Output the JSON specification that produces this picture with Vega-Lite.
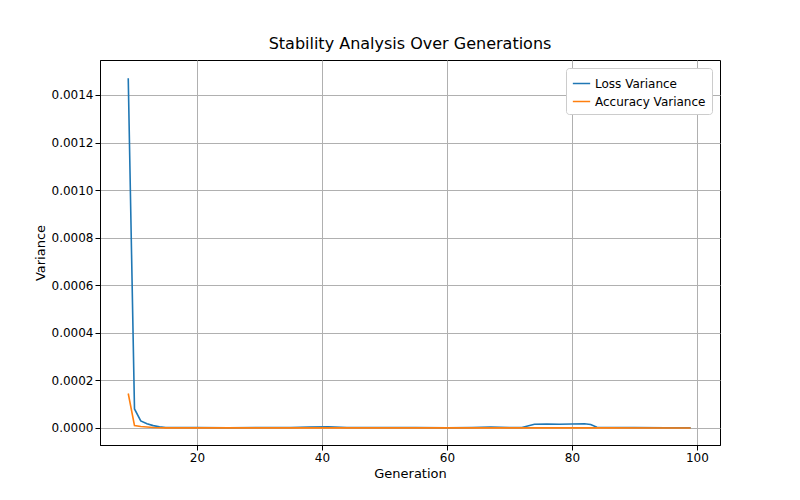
{
  "$schema": "https://vega.github.io/schema/vega-lite/v6.json",
  "width": 620,
  "height": 385,
  "padding": {"left": 100, "top": 60, "right": 80, "bottom": 55},
  "autosize": {"type": "none"},
  "title": {"text": "Stability Analysis Over Generations", "fontSize": 16, "fontWeight": "normal", "font": "DejaVu Sans", "offset": 8},
  "config": {
    "view": {"stroke": "black"},
    "font": "DejaVu Sans",
    "axis": {"labelFont": "DejaVu Sans", "titleFont": "DejaVu Sans", "labelFontSize": 12, "titleFontSize": 13, "titleFontWeight": "normal", "gridColor": "#b0b0b0", "domainColor": "black", "tickColor": "black", "labelColor": "black", "titleColor": "black"}
  },
  "data": {
    "values": [
      {"g": 9, "s": "Loss Variance", "v": 0.00147},
      {"g": 10, "s": "Loss Variance", "v": 0.00008},
      {"g": 11, "s": "Loss Variance", "v": 0.00003},
      {"g": 12, "s": "Loss Variance", "v": 0.000018},
      {"g": 13, "s": "Loss Variance", "v": 0.00001},
      {"g": 14, "s": "Loss Variance", "v": 0.000005},
      {"g": 15, "s": "Loss Variance", "v": 0.000002},
      {"g": 20, "s": "Loss Variance", "v": 0.000002},
      {"g": 25, "s": "Loss Variance", "v": 0.000001},
      {"g": 30, "s": "Loss Variance", "v": 0.000002},
      {"g": 35, "s": "Loss Variance", "v": 0.000002},
      {"g": 38, "s": "Loss Variance", "v": 0.000004},
      {"g": 41, "s": "Loss Variance", "v": 0.000005},
      {"g": 44, "s": "Loss Variance", "v": 0.000002},
      {"g": 50, "s": "Loss Variance", "v": 0.000002},
      {"g": 55, "s": "Loss Variance", "v": 0.000002},
      {"g": 60, "s": "Loss Variance", "v": 0.000001},
      {"g": 64, "s": "Loss Variance", "v": 0.000002},
      {"g": 67, "s": "Loss Variance", "v": 0.000004},
      {"g": 70, "s": "Loss Variance", "v": 0.000002},
      {"g": 72, "s": "Loss Variance", "v": 0.000002},
      {"g": 74, "s": "Loss Variance", "v": 0.000016},
      {"g": 76, "s": "Loss Variance", "v": 0.000017},
      {"g": 78, "s": "Loss Variance", "v": 0.000016},
      {"g": 80, "s": "Loss Variance", "v": 0.000017},
      {"g": 82, "s": "Loss Variance", "v": 0.000018},
      {"g": 83, "s": "Loss Variance", "v": 0.000015},
      {"g": 84, "s": "Loss Variance", "v": 0.000003},
      {"g": 90, "s": "Loss Variance", "v": 0.000002},
      {"g": 95, "s": "Loss Variance", "v": 0.000001},
      {"g": 99, "s": "Loss Variance", "v": 0.000001},
      {"g": 9, "s": "Accuracy Variance", "v": 0.000145},
      {"g": 10, "s": "Accuracy Variance", "v": 0.00001},
      {"g": 11, "s": "Accuracy Variance", "v": 0.000006},
      {"g": 13, "s": "Accuracy Variance", "v": 0.000002},
      {"g": 15, "s": "Accuracy Variance", "v": 0.0000005},
      {"g": 30, "s": "Accuracy Variance", "v": 0.0000003},
      {"g": 50, "s": "Accuracy Variance", "v": 0.0000003},
      {"g": 70, "s": "Accuracy Variance", "v": 0.0000003},
      {"g": 85, "s": "Accuracy Variance", "v": 0.0000003},
      {"g": 99, "s": "Accuracy Variance", "v": 0.0000002}
    ]
  },
  "mark": {"type": "line", "strokeWidth": 1.6, "clip": true},
  "encoding": {
    "x": {"field": "g", "type": "quantitative", "title": "Generation",
      "scale": {"domain": [4.48, 103.7], "nice": false, "zero": false},
      "axis": {"values": [20, 40, 60, 80, 100], "labelFlush": false}},
    "y": {"field": "v", "type": "quantitative", "title": "Variance",
      "scale": {"domain": [-0.0000715, 0.001547], "nice": false, "zero": false},
      "axis": {"values": [0, 0.0002, 0.0004, 0.0006, 0.0008, 0.001, 0.0012, 0.0014], "format": ".4f", "labelFlush": false}},
    "color": {"field": "s", "type": "nominal", "title": null,
      "scale": {"domain": ["Loss Variance", "Accuracy Variance"], "range": ["#1f77b4", "#ff7f0e"]},
      "legend": {"orient": "top-right", "offset": 8, "labelFontSize": 12, "symbolType": "stroke", "symbolSize": 300, "strokeColor": "#cccccc", "fillColor": "white", "padding": 6, "cornerRadius": 3}},
    "order": {"field": "g"}
  }
}
